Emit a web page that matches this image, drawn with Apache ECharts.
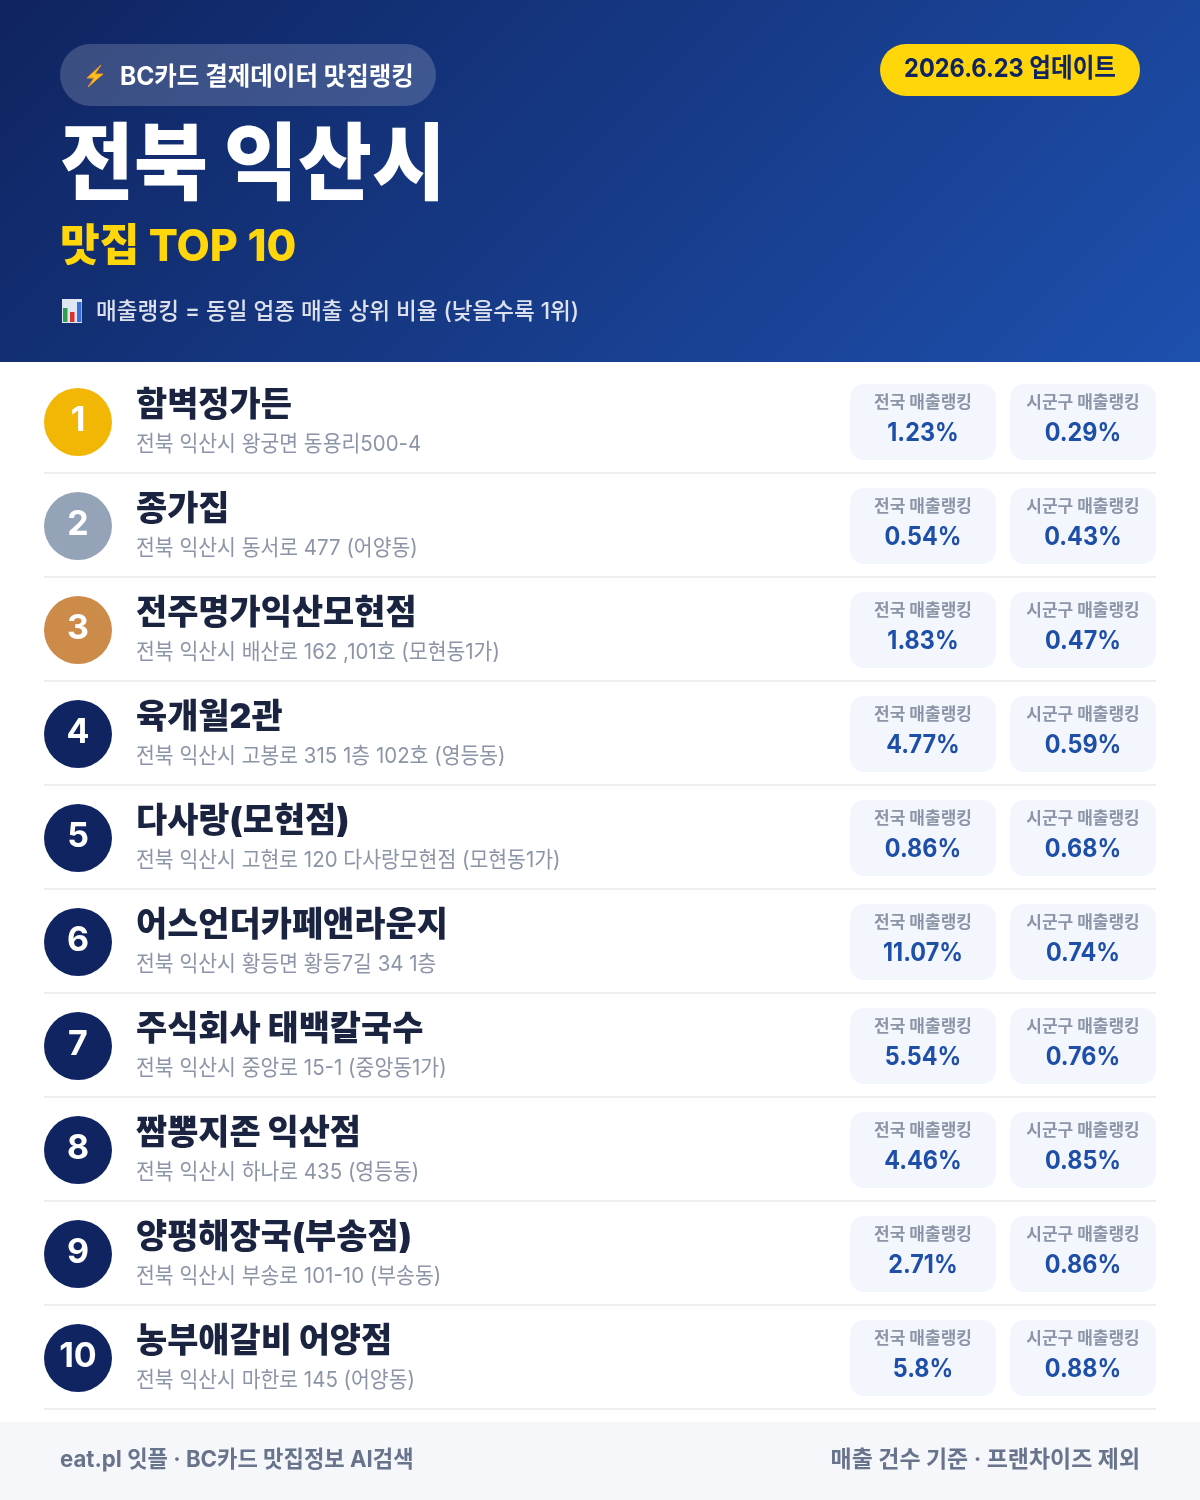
<!DOCTYPE html>
<html><head><meta charset="utf-8">
<style>html,body{margin:0;padding:0;background:#fff}#c{width:1200px;height:1500px}</style>
<script src="https://cdn.jsdelivr.net/npm/echarts@6/dist/echarts.min.js"></script>
</head><body><div id="c"></div>
<script>
const ranks = [1,2,3,4,5,6,7,8,9,10];
const names = ['함벽정가든','종가집','전주명가익산모현점','육개월2관','다사랑(모현점)','어스언더카페앤라운지','주식회사 태백칼국수','짬뽕지존 익산점','양평해장국(부송점)','농부애갈비 어양점'];
const addresses = ['전북 익산시 왕궁면 동용리500-4','전북 익산시 동서로 477 (어양동)','전북 익산시 배산로 162 ,101호 (모현동1가)','전북 익산시 고봉로 315 1층 102호 (영등동)','전북 익산시 고현로 120 다사랑모현점 (모현동1가)','전북 익산시 황등면 황등7길 34 1층','전북 익산시 중앙로 15-1 (중앙동1가)','전북 익산시 하나로 435 (영등동)','전북 익산시 부송로 101-10 (부송동)','전북 익산시 마한로 145 (어양동)'];
const nationalRank = [1.23,0.54,1.83,4.77,0.86,11.07,5.54,4.46,2.71,5.8];
const districtRank = [0.29,0.43,0.47,0.59,0.68,0.74,0.76,0.85,0.86,0.88];
const labelNational = '전국 매출랭킹';
const labelDistrict = '시군구 매출랭킹';
const badgeColors = ['#f2b705','#94a3b8','#cd8b4a'];
const badgeDefault = '#0f2460';
const FF = 'Inter, "Noto Sans CJK KR"';
const f = (w,s)=>`${w} ${s}px ${FF}`;
const chart = echarts.init(document.getElementById('c'),null,{renderer:'canvas',width:1200,height:1500});
function txt(x,y,text,font,fill,align,sx){
  return {type:'text',x:x,y:y,scaleX:sx||1,style:{text:text,font:font,fill:fill,textAlign:align||'left',textVerticalAlign:'middle'}};
}
function card(x,yc,label,val){
  return [
    {type:'rect',shape:{x:x,y:yc-38,width:146,height:76,r:14},style:{fill:'#f3f6fd'}},
    txt(x+73,yc-19,label,f(700,17),'#8b95a7','center',1),
    txt(x+73,yc+11,val+'%',f(700,25),'#1e4fa8','center',0.935)
  ];
}
chart.setOption({
  animation:false,
  graphic:[
    {type:'rect',shape:{x:0,y:0,width:1200,height:362},style:{fill:new echarts.graphic.LinearGradient(209.5,-209.5,990.5,571.5,[{offset:0,color:'#0f2460'},{offset:1,color:'#1e50ae'}],true)}},
    {type:'rect',shape:{x:60,y:44,width:376,height:62,r:31},style:{fill:'rgba(255,255,255,0.18)'}},
    {type:'polygon',shape:{points:[[101,65],[87,78],[94,78],[88,87],[103,74],[95,74]]},style:{fill:'#fcc21b',stroke:'#f79329',lineWidth:1}},
    txt(120,77,'BC카드 결제데이터 맛집랭킹',f(700,25),'#fff','left',0.98),
    {type:'rect',shape:{x:880,y:44,width:260,height:52,r:26},style:{fill:'#ffd60a'}},
    txt(1010,69,'2026.6.23 업데이트',f(700,26),'#0f2460','center',0.905),
    txt(60,168,'전북 익산시',f(900,84),'#fff','left',0.9575),
    txt(60,248,'맛집 TOP 10',f(800,44),'#ffd60a','left',0.98),
    {type:'rect',shape:{x:62,y:299,width:20,height:24},style:{fill:'#dfe8f2'}},
    {type:'rect',shape:{x:63,y:308,width:4.5,height:14},style:{fill:'#2e9e4f'}},
    {type:'rect',shape:{x:70,y:312,width:4.5,height:10},style:{fill:'#d8322f'}},
    {type:'rect',shape:{x:77,y:302,width:4.5,height:20},style:{fill:'#3a6fd8'}},
    txt(96,312,'매출랭킹 = 동일 업종 매출 상위 비율 (낮을수록 1위)',f(500,23),'rgba(255,255,255,0.85)','left',0.98),
    {type:'rect',shape:{x:0,y:1422,width:1200,height:78},style:{fill:'#f5f7fb'}},
    txt(60,1460,'eat.pl 잇플 · BC카드 맛집정보 AI검색',f(700,23),'#68738c','left',0.965),
    txt(1140,1460,'매출 건수 기준 · 프랜차이즈 제외',f(700,23),'#68738c','right',0.998)
  ],
  grid:{left:44,right:44,top:370,height:1040},
  xAxis:{type:'value',min:0,max:1,show:false},
  yAxis:{type:'category',data:ranks,inverse:true,show:false},
  series:[{
    type:'custom',
    coordinateSystem:'cartesian2d',
    encode:{x:0,y:1},
    data:ranks.map((r,i)=>[0,i]),
    clip:false,
    renderItem:(params,api)=>{
      const i=params.dataIndex;
      const yc=api.coord([0,i])[1];
      const bw=api.size([0,1])[1];
      const left=params.coordSys.x, right=left+params.coordSys.width;
      return {type:'group',children:[
        {type:'rect',shape:{x:left,y:yc+bw/2-2,width:right-left,height:2},style:{fill:'#eceef2'}},
        {type:'circle',shape:{cx:left+34,cy:yc,r:34},style:{fill:badgeColors[i]||badgeDefault}},
        txt(left+34,yc-1,String(ranks[i]),f(700,34),'#fff','center',1),
        txt(left+92,yc-16,names[i],f(900,34),'#1a2340','left',0.997),
        txt(left+92,yc+22,addresses[i],f(400,22),'#8b95a7','left',0.93),
        ...card(right-306,yc,labelNational,nationalRank[i]),
        ...card(right-146,yc,labelDistrict,districtRank[i])
      ]};
    }
  }]
});
</script></body></html>
